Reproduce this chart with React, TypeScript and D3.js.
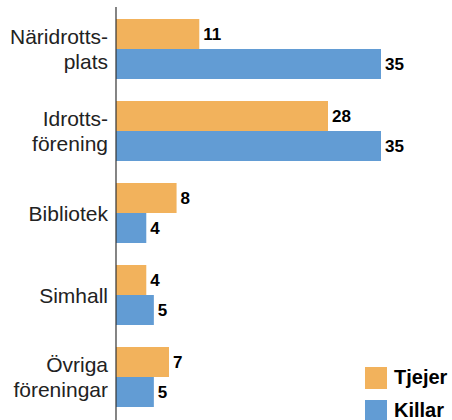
import React from "react";
import * as d3 from "d3";

// categories, one label per line
const categories = [
  ["Näridrotts-", "plats"],
  ["Idrotts-", "förening"],
  ["Bibliotek"],
  ["Simhall"],
  ["Övriga", "föreningar"],
];
const tjejer = [11, 28, 8, 4, 7];
const killar = [35, 35, 4, 5, 5];
const seriesNames = ["Tjejer", "Killar"];
const colors = ["#F2B25C", "#629CD4"];

const width = 452;
const height = 420;
const margin = { top: 19, right: 71, bottom: 13, left: 116 };

export default function App() {
  const keys = categories.map((c) => c.join(""));

  const y = d3
    .scaleBand<string>()
    .domain(keys)
    .range([margin.top, height - margin.bottom])
    .paddingInner(22 / 82)
    .paddingOuter(0);

  const inner = d3
    .scaleBand<string>()
    .domain(seriesNames)
    .range([0, y.bandwidth()]);

  const x = d3
    .scaleLinear()
    .domain([0, 35])
    .range([margin.left, width - margin.right]);

  const series = [tjejer, killar];
  const font = "'Liberation Sans', Arial, sans-serif";

  return (
    <svg
      width={width}
      height={height}
      style={{ position: "absolute", left: 0, top: 0, display: "block" }}
      fontFamily={font}
    >
      {keys.map((k, i) => {
        const y0 = y(k)!;
        const lines = categories[i];
        const mid = y0 + y.bandwidth() / 2;
        const lh = 25;
        const first = mid - ((lines.length - 1) * lh) / 2;
        return (
          <g key={k}>
            {series.map((vals, s) => {
              const by = y0 + inner(seriesNames[s])!;
              return (
                <g key={s}>
                  <rect
                    x={x(0)}
                    y={by}
                    width={x(vals[i]) - x(0)}
                    height={inner.bandwidth()}
                    fill={colors[s]}
                  />
                  <text
                    x={x(vals[i]) + 4}
                    y={by + inner.bandwidth() / 2}
                    dy="0.36em"
                    fontSize={17}
                    fontWeight="bold"
                    fill="#000"
                  >
                    {vals[i]}
                  </text>
                </g>
              );
            })}
            {lines.map((ln, j) => (
              <text
                key={j}
                x={margin.left - 8}
                y={first + j * lh}
                dy="0.36em"
                textAnchor="end"
                fontSize={21}
                fill="#222"
              >
                {ln}
              </text>
            ))}
          </g>
        );
      })}

      <line
        x1={margin.left}
        x2={margin.left}
        y1={7}
        y2={height}
        stroke="#333"
        strokeWidth={1.2}
      />

      {seriesNames.map((n, s) => (
        <g key={n} transform={`translate(365,${367 + s * 33})`}>
          <rect width={22} height={22} fill={colors[s]} />
          <text x={29} y={10} dy="0.36em" fontSize={20} fontWeight="bold" fill="#000">
            {n}
          </text>
        </g>
      ))}
    </svg>
  );
}
